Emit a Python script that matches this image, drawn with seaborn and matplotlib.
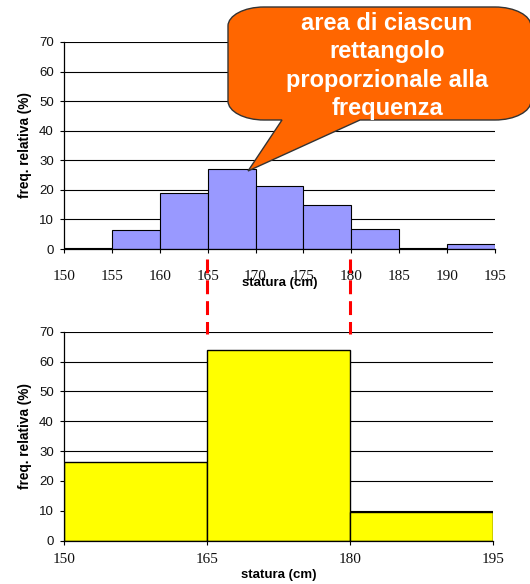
import numpy as np
import pandas as pd
import matplotlib
matplotlib.use("Agg")
import matplotlib.pyplot as plt
import matplotlib.transforms as mtransforms
from matplotlib.path import Path
from matplotlib.patches import PathPatch
from matplotlib.lines import Line2D
import seaborn as sns

# ---------------- data ----------------
edges_fine = [150, 155, 160, 165, 170, 175, 180, 185, 190, 195]
freq_fine = [0.5, 6.3, 19.0, 27.0, 21.4, 15.0, 6.9, 0.5, 1.6]
edges_coarse = [150, 165, 180, 195]
freq_coarse = [26.4, 63.9, 9.7]
y_ticks = [0, 10, 20, 30, 40, 50, 60, 70]
split_edges = [165, 180]
ylabel_txt = "freq. relativa (%)"
xlabel_txt = "statura (cm)"
callout_txt = "area di ciascun\nrettangolo\nproporzionale alla\nfrequenza"

sns.set_theme(style="white")
plt.rcParams['font.family'] = ['Liberation Sans', 'DejaVu Sans']

W, H = 530, 584
fig = plt.figure(figsize=(W / 100, H / 100), dpi=100)
ax1 = fig.add_axes([64 / W, 335 / H, 431 / W, 207 / H])
ax2 = fig.add_axes([64 / W, 43.3 / H, 429 / W, 209 / H])


def mids(edges):
    e = np.asarray(edges, dtype=float)
    return (e[:-1] + e[1:]) / 2


df_fine = pd.DataFrame({"statura": mids(edges_fine), "freq": freq_fine})
df_coarse = pd.DataFrame({"statura": mids(edges_coarse), "freq": freq_coarse})

sns.histplot(data=df_fine, x="statura", weights="freq", bins=edges_fine,
             color="#9999FF", alpha=1, edgecolor="black", linewidth=0.8, ax=ax1)
sns.histplot(data=df_coarse, x="statura", weights="freq", bins=edges_coarse,
             color="#FFFF00", alpha=1, edgecolor="black", linewidth=1.0, ax=ax2)

for ax, edges, xpad in ((ax1, edges_fine, 12), (ax2, edges_coarse, 5.6)):
    ax.set_xlim(edges[0], edges[-1])
    ax.set_ylim(0, 70)
    ax.set_yticks(y_ticks)
    ax.set_xticks(edges)
    ax.set_xticklabels([str(e) for e in edges], family="Liberation Serif", fontsize=11)
    ax.tick_params(axis="y", left=True, length=3, width=0.8, pad=4.3,
                   labelsize=9.5, color="black", labelcolor="#111111")
    ax.tick_params(axis="x", bottom=True, length=3, width=0.8, pad=xpad,
                   color="black", labelcolor="#111111")
    ax.set_axisbelow(True)
    ax.yaxis.grid(True, color="black", linewidth=0.8)
    ax.xaxis.grid(False)
    for s in ("top", "right"):
        ax.spines[s].set_visible(False)
    for s in ("left", "bottom"):
        ax.spines[s].set_color("black")
        ax.spines[s].set_linewidth(0.9)
    ax.set_ylabel(ylabel_txt, fontsize=9.8, fontweight="bold", color="black")
    ax.set_xlabel(xlabel_txt, fontsize=9.5, fontweight="bold", color="black")
    ax.xaxis.set_label_coords(0.5, -0.164)
    ax.xaxis.label.set_va("center")

ax1.yaxis.set_label_coords((25 - 64) / 431, 0.5)
ax2.yaxis.set_label_coords((25 - 64) / 429, 0.5)
ax1.yaxis.label.set_va("center")
ax2.yaxis.label.set_va("center")

# red dashed connectors at the merged-class boundaries
blend = mtransforms.blended_transform_factory(ax2.transData, fig.transFigure)
lw = 2.2
for x in split_edges:
    fig.add_artist(Line2D([x, x], [1 - 259 / H, 1 - 334 / H], transform=blend,
                          color="#FF0000", linewidth=lw,
                          dashes=(10 / lw, 5 / lw), solid_capstyle="butt"))

# callout (pixel coords, y downwards)
L, R, T, B = 228, 531, 7, 120
rx, ry = 36, 19
k = 0.5523
x1, x2 = 282, 360
tip = (248, 171)
verts = [
    (L + rx, T),
    (R - rx, T),
    (R - rx + k * rx, T), (R, T + ry - k * ry), (R, T + ry),
    (R, B - ry),
    (R, B - ry + k * ry), (R - rx + k * rx, B), (R - rx, B),
    (x2, B),
    tip,
    (x1, B),
    (L + rx, B),
    (L + rx - k * rx, B), (L, B - ry + k * ry), (L, B - ry),
    (L, T + ry),
    (L, T + ry - k * ry), (L + rx - k * rx, T), (L + rx, T),
    (L + rx, T),
]
codes = [Path.MOVETO, Path.LINETO,
         Path.CURVE4, Path.CURVE4, Path.CURVE4,
         Path.LINETO,
         Path.CURVE4, Path.CURVE4, Path.CURVE4,
         Path.LINETO, Path.LINETO, Path.LINETO, Path.LINETO,
         Path.CURVE4, Path.CURVE4, Path.CURVE4,
         Path.LINETO,
         Path.CURVE4, Path.CURVE4, Path.CURVE4,
         Path.CLOSEPOLY]
verts_fig = [(vx / W, 1 - vy / H) for vx, vy in verts]
patch = PathPatch(Path(verts_fig, codes), transform=fig.transFigure,
                  facecolor="#FF6600", edgecolor="#333333", linewidth=1.0,
                  zorder=10)
fig.add_artist(patch)
fig.text(387 / W, 1 - 66 / H, callout_txt, ha="center", va="center",
         fontsize=17, fontweight="bold", color="white", linespacing=1.3,
         zorder=11)

fig.savefig("out.png", dpi=100)
